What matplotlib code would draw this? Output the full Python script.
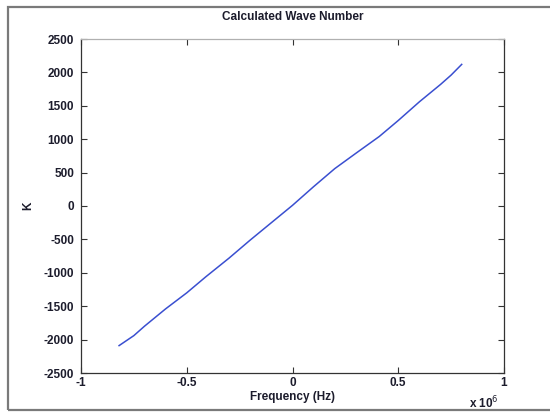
import matplotlib
matplotlib.use("Agg")
import matplotlib.pyplot as plt
from matplotlib.patches import Rectangle

# Frequency in units of 1e6 Hz and the calculated wave number K
freq = [-0.82, -0.75, -0.7, -0.6, -0.5, -0.41, -0.3, -0.2, -0.1, 0.0,
        0.05, 0.1, 0.2, 0.3, 0.41, 0.5, 0.6, 0.7, 0.75, 0.8]
wave_k = [-2090, -1940, -1800, -1540, -1300, -1060, -780, -510, -250, 10,
          150, 290, 560, 790, 1040, 1280, 1560, 1820, 1960, 2120]

xticks = [-1, -0.5, 0, 0.5, 1]
yticks = [-2500, -2000, -1500, -1000, -500, 0, 500, 1000, 1500, 2000, 2500]

plt.rcParams['font.family'] = ['Liberation Sans', 'DejaVu Sans']
txt = '#1c1c2c'
fs = 8.5

fig = plt.figure(figsize=(5.5, 4.17), dpi=100)
fig.patch.set_facecolor('white')

# outer border around the figure window
fig.patches.append(Rectangle((8 / 550, 7 / 417), 0.99, 403 / 417,
                             transform=fig.transFigure, fill=False,
                             edgecolor='#7a7a7a', linewidth=1.6))

ax = fig.add_axes([81 / 550, 1 - 373 / 417, 423 / 550, 334 / 417])
ax.plot(freq, wave_k, color='#3a4fd0', linewidth=1.1)

ax.set_xlim(-1, 1)
ax.set_ylim(-2500, 2500)
ax.set_xticks(xticks)
ax.set_xticklabels(['-1', '-0.5', '0', '0.5', '1'])
ax.set_yticks(yticks)
ax.set_yticklabels([str(v) for v in yticks])
ax.tick_params(direction='in', length=4, width=0.8, top=True, right=True,
               labelsize=fs, colors='#333333', labelcolor=txt, pad=3)
ax.tick_params(axis='y', pad=5)
for lab in ax.get_xticklabels() + ax.get_yticklabels():
    lab.set_fontweight('bold')
for s in ['left', 'bottom', 'right']:
    ax.spines[s].set_color('#333333')
    ax.spines[s].set_linewidth(0.9)
ax.spines['top'].set_color('#b0b0b0')
ax.spines['top'].set_linewidth(0.9)

ax.text(0.5, 1.066, 'Calculated Wave Number', transform=ax.transAxes,
        fontsize=fs, fontweight='bold', color=txt, ha='center', va='center')
ax.set_xlabel('Frequency (Hz)', fontsize=fs, fontweight='bold', color=txt)
ax.xaxis.set_label_coords(0.5, -0.072)
ax.xaxis.label.set_va('center')
ax.set_ylabel('K', fontsize=fs, fontweight='bold', color=txt)
ax.yaxis.set_label_coords(-0.125, 0.5)
ax.yaxis.label.set_va('center')
fig.text(484 / 550, 1 - 403 / 417, r'x 10$^{6}$', fontsize=fs,
         fontweight='bold', color=txt, ha='center', va='center')

fig.savefig('out.png', dpi=100, facecolor='white')
